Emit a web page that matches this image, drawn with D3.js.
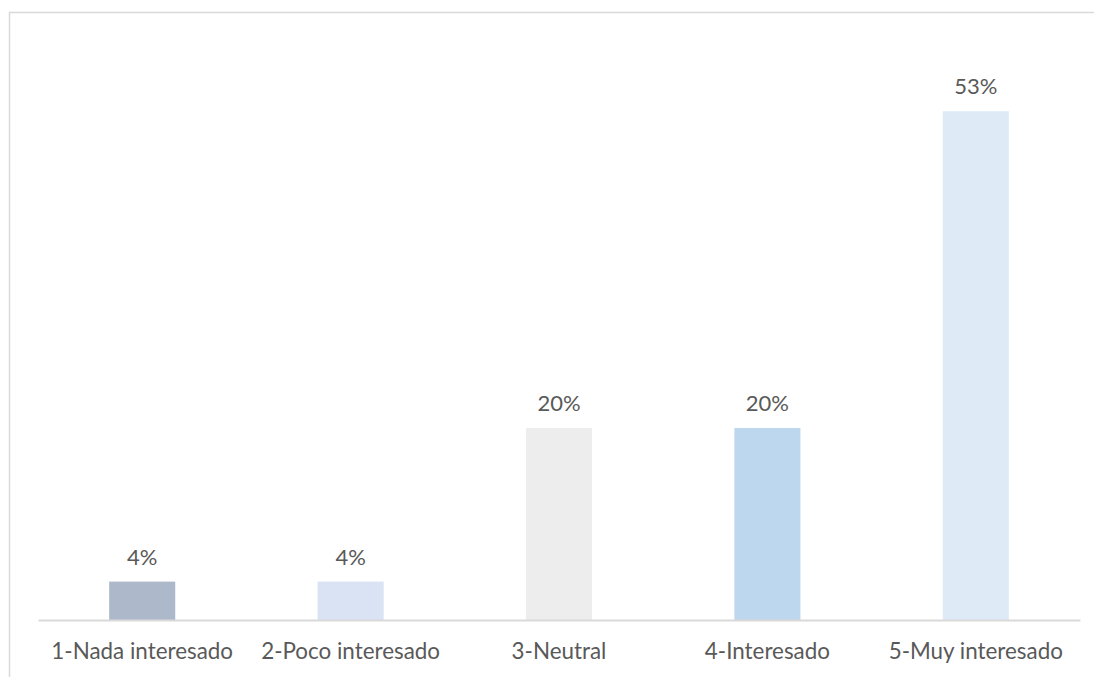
<!DOCTYPE html>
<html>
<head>
<meta charset="utf-8">
<script src="https://cdn.jsdelivr.net/npm/d3@7"></script>
<style>
  html, body { margin: 0; padding: 0; background: #ffffff; }
  svg { display: block; }
  text { font-family: Lato, "Open Sans", sans-serif; fill: #595959; }
</style>
</head>
<body>
<svg id="chart" width="1094" height="677"></svg>
<script>
const categories = ["1-Nada interesado", "2-Poco interesado", "3-Neutral", "4-Interesado", "5-Muy interesado"];
const values = [4, 4, 20, 20, 53];
const barColors = ["#adb9ca", "#dae3f3", "#ededed", "#bdd7ee", "#deebf7"];

const svg = d3.select("#chart");

// chart frame
svg.append("rect")
  .attr("x", 9.5).attr("y", 12.5)
  .attr("width", 1100).attr("height", 700)
  .attr("fill", "#ffffff")
  .attr("stroke", "#d9d9d9")
  .attr("stroke-width", 1.5);

const plot = { left: 38, right: 1080, top: 44, bottom: 620 };

const x = d3.scaleBand()
  .domain(categories)
  .range([plot.left, plot.right])
  .paddingInner(0.683)
  .paddingOuter(0.683 / 2);

const y = d3.scaleLinear()
  .domain([0, 60])
  .range([plot.bottom, plot.top]);

svg.append("g")
  .selectAll("rect")
  .data(values)
  .join("rect")
  .attr("x", (d, i) => x(categories[i]))
  .attr("y", d => y(d))
  .attr("width", x.bandwidth())
  .attr("height", d => y(0) - y(d))
  .attr("fill", (d, i) => barColors[i]);

// value labels
svg.append("g")
  .selectAll("text")
  .data(values)
  .join("text")
  .attr("x", (d, i) => x(categories[i]) + x.bandwidth() / 2)
  .attr("y", d => y(d) - 17)
  .attr("text-anchor", "middle")
  .attr("font-size", 22)
  .text(d => d + "%");

// category axis
const axis = svg.append("g")
  .attr("transform", `translate(0,${plot.bottom})`)
  .call(d3.axisBottom(x).tickSize(0).tickPadding(0));
axis.select(".domain").attr("stroke", "#d9d9d9").attr("stroke-width", 2);
axis.selectAll(".tick text")
  .attr("dy", 0)
  .attr("y", 39)
  .attr("font-size", 22.4)
  .style("font-family", "Lato, 'Open Sans', sans-serif")
  .attr("fill", "#595959");
</script>
</body>
</html>
